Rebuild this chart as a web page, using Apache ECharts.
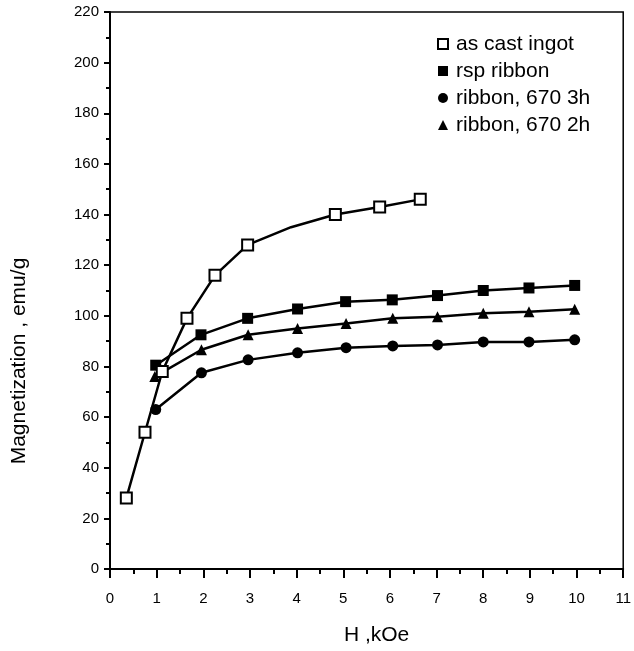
<!DOCTYPE html>
<html><head><meta charset="utf-8">
<script src="https://cdn.jsdelivr.net/npm/echarts@6/dist/echarts.min.js"></script>
<style>html,body{margin:0;padding:0;background:#fff}#c{width:634px;height:651px}</style>
</head><body><div id="c"></div>
<script>
var seriesNames = ['as cast ingot', 'rsp ribbon', 'ribbon, 670 3h', 'ribbon, 670 2h'];
var ingotH = [0.35, 0.75, 1.12, 1.65, 2.25, 2.95, 3.88, 4.83, 5.78, 6.65];
var ingotM = [28, 54, 78, 99, 116, 128, 135, 140, 143, 146];
var rspH = [0.98, 1.95, 2.95, 4.02, 5.05, 6.05, 7.02, 8.0, 8.98, 9.96];
var rspM = [80.5, 92.5, 99, 102.7, 105.6, 106.3, 108, 110, 111, 112];
var r3hH = [0.98, 1.96, 2.96, 4.02, 5.06, 6.06, 7.02, 8.0, 8.98, 9.96];
var r3hM = [63, 77.5, 82.6, 85.4, 87.4, 88.1, 88.5, 89.7, 89.7, 90.5];
var r2hH = [0.96, 1.96, 2.96, 4.02, 5.06, 6.06, 7.02, 8.0, 8.98, 9.96];
var r2hM = [76, 86.6, 92.5, 95, 97, 99, 99.6, 101, 101.6, 102.6];
var xTicks = ['0','1','2','3','4','5','6','7','8','9','10','11'];
var yTitle = 'Magnetization , emu/g';
var xTitle = 'H ,kOe';

function pairs(h, m) { return h.map(function (v, i) { return [v, m[i]]; }); }
var ingotData = pairs(ingotH, ingotM).map(function (p, i) {
  return i === 6 ? { value: p, symbol: 'none' } : p;
});

var FONT = 'Liberation Sans, Arial, sans-serif';
var chart = echarts.init(document.getElementById('c'), null, { renderer: 'canvas' });
function lineSeries(name, data, symbol, filled) {
  return {
    name: name, type: 'line', data: data, symbol: symbol, symbolSize: 11,
    showAllSymbol: true, animation: false,
    lineStyle: { color: '#000', width: 2.5 },
    itemStyle: filled ? { color: '#000', borderColor: '#000', borderWidth: 0 }
                      : { color: '#fff', borderColor: '#000', borderWidth: 2 },
    z: filled ? 3 : 4
  };
}
chart.setOption({
  animation: false,
  backgroundColor: '#fff',
  grid: { left: 110, right: 9, top: 12, bottom: 82, show: true, borderColor: '#000', borderWidth: 1.5 },
  legend: {
    orient: 'vertical', left: 432, top: 28, itemWidth: 10, itemHeight: 10, itemGap: 5,
    textStyle: { fontFamily: FONT, fontSize: 21, color: '#000', lineHeight: 22, padding: [0, 0, 0, 3] },
    data: [
      { name: seriesNames[0], icon: 'rect', itemStyle: { color: '#fff', borderColor: '#000', borderWidth: 2 } },
      { name: seriesNames[1], icon: 'rect' },
      { name: seriesNames[2], icon: 'circle' },
      { name: seriesNames[3], icon: 'triangle' }
    ]
  },
  xAxis: {
    type: 'value', min: 0, max: 11, interval: 1,
    name: xTitle, nameLocation: 'middle', nameGap: 56,
    nameTextStyle: { fontFamily: FONT, fontSize: 21, color: '#000', padding: [0, 0, 0, 20] },
    axisLine: { lineStyle: { color: '#000', width: 2 } },
    axisTick: { show: true, length: 9, lineStyle: { color: '#000', width: 2 } },
    minorTick: { show: true, splitNumber: 2, length: 5, lineStyle: { color: '#000', width: 2 } },
    axisLabel: { fontFamily: FONT, fontSize: 15, color: '#000', margin: 22,
      formatter: function (v) { return xTicks[Math.round(v)]; } },
    splitLine: { show: false }
  },
  yAxis: {
    type: 'value', min: 0, max: 220, interval: 20,
    axisLine: { lineStyle: { color: '#000', width: 2 } },
    axisTick: { show: true, length: 6, lineStyle: { color: '#000', width: 2 } },
    minorTick: { show: true, splitNumber: 2, length: 4, lineStyle: { color: '#000', width: 2 } },
    axisLabel: { fontFamily: FONT, fontSize: 15, color: '#000', margin: 11 },
    splitLine: { show: false }
  },
  graphic: [{
    type: 'text', x: 19, y: 361, rotation: Math.PI / 2,
    style: { text: yTitle, fontFamily: FONT, fontSize: 21, fill: '#000', align: 'center', verticalAlign: 'middle' }
  }],
  series: [
    lineSeries(seriesNames[0], ingotData, 'rect', false),
    lineSeries(seriesNames[1], pairs(rspH, rspM), 'rect', true),
    lineSeries(seriesNames[2], pairs(r3hH, r3hM), 'circle', true),
    lineSeries(seriesNames[3], pairs(r2hH, r2hM), 'triangle', true)
  ]
});
</script></body></html>
